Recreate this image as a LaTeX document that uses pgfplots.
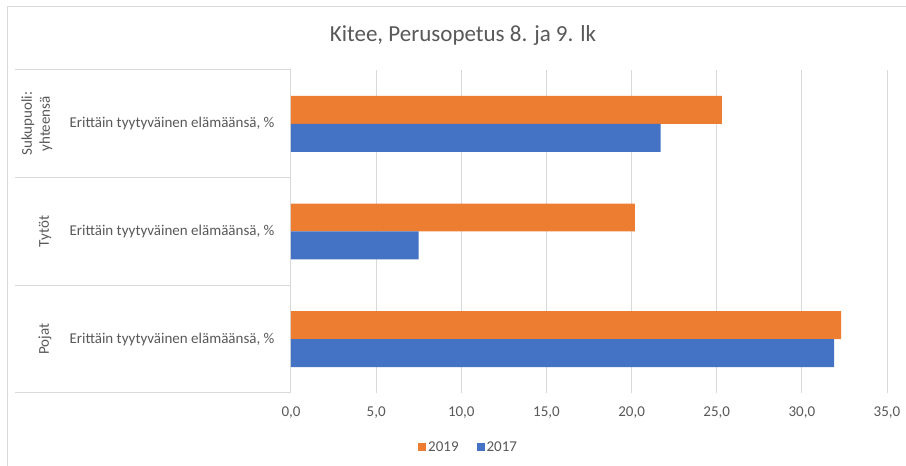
\documentclass[border=0pt]{standalone}
\usepackage{fontspec}
\setmainfont{Carlito}
\usepackage{pgfplots}
\pgfplotsset{compat=1.18}
\definecolor{orng}{HTML}{ED7D31}
\definecolor{blu}{HTML}{4472C4}
\definecolor{txt}{HTML}{595959}
\definecolor{grd}{HTML}{D9D9D9}
\begin{document}
\begin{tikzpicture}
\useasboundingbox (0pt,0pt) rectangle (906pt,466pt);
\fill[white] (0pt,0pt) rectangle (906pt,466pt);
\draw[grd, line width=1pt] (7.5pt,0pt) -- (7.5pt,459pt) -- (906pt,459pt);
\node[txt, font=\fontsize{23}{27}\selectfont] at (463pt,431pt) {Kitee, Perusopetus 8. ja 9. lk};
\begin{axis}[
  at={(291pt,73pt)}, anchor=south west,
  width=596pt, height=323pt, scale only axis,
  xbar, clip=false,
  xmin=0, xmax=35, ymin=-0.5, ymax=2.5,
  xtick={0,5,...,35}, ytick=\empty,
  xmajorgrids, grid style={grd, line width=1pt},
  axis line style={draw=none}, tick style={draw=none},
  bar width=0.26,
  /pgf/number format/assume math mode=true,
  xticklabel style={txt, font=\fontsize{15}{18}\selectfont, /pgf/number format/.cd, fixed, fixed zerofill, precision=1, use comma},
  xticklabel shift=10pt,
  legend columns=2,
  legend style={at={(0.298,-0.167)}, anchor=center, draw=none, fill=none, font=\fontsize{15}{18}\selectfont, text=txt, /tikz/every even column/.append style={column sep=16pt}},
  legend image code/.code={\fill[#1] (-2pt,-4pt) rectangle (6pt,4pt);},
]
\addplot[fill=orng, draw=none, bar shift=0.13] coordinates {(32.3,0) (20.2,1) (25.3,2)};
\addlegendentry{2019}
\addplot[fill=blu, draw=none, bar shift=-0.13] coordinates {(31.9,0) (7.5,1) (21.7,2)};
\addlegendentry{2017}
\pgfplotsinvokeforeach{-0.5,0.5,1.5,2.5}{
  \draw[grd, line width=1pt] (axis cs:0,#1) -- ++(-276pt,0pt);
}
\pgfplotsinvokeforeach{0,1,2}{
  \node[txt, font=\fontsize{15}{18}\selectfont, anchor=east] at ([xshift=-13pt]axis cs:0,#1) {Erittäin tyytyväinen elämäänsä, \%};
}
\node[txt, font=\fontsize{15}{18}\selectfont, rotate=90, align=center] at ([xshift=-254pt]axis cs:0,2) {Sukupuoli:\\yhteensä};
\node[txt, font=\fontsize{15}{18}\selectfont, rotate=90] at ([xshift=-246pt]axis cs:0,1) {Tytöt};
\node[txt, font=\fontsize{15}{18}\selectfont, rotate=90] at ([xshift=-246pt]axis cs:0,0) {Pojat};
\end{axis}
\end{tikzpicture}
\end{document}
